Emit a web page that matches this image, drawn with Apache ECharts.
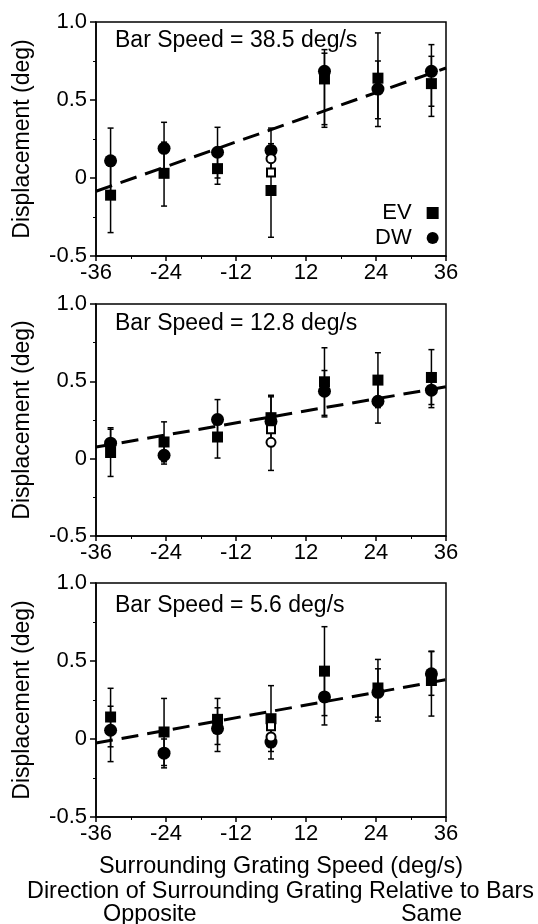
<!DOCTYPE html>
<html>
<head>
<meta charset="utf-8">
<script src="https://cdn.jsdelivr.net/npm/echarts@6/dist/echarts.min.js"></script>
<style>
html,body{margin:0;padding:0;background:#fff;}
#chart{width:538px;height:924px;}
</style>
</head>
<body>
<div id="chart"></div>
<script>
// ---------- DATA ----------
var xTickLabels = ['-36', '-24', '-12', '12', '24', '36'];
// surrounding grating speed (deg/s) of the 7 conditions, read on an equally spaced -36..36 scale
var gratingSpeeds = [-33, -22, -11, 0, 11, 22, 33];
var panelTitles = ['Bar Speed = 38.5 deg/s', 'Bar Speed = 12.8 deg/s', 'Bar Speed = 5.6 deg/s'];

// Panel 1: bar speed 38.5 deg/s
var ev1 = [-0.11, 0.03, 0.06, -0.08, 0.635, 0.64, 0.605];
var ev1Low = [-0.35, -0.18, -0.04, -0.38, 0.325, 0.33, 0.395];
var ev1High = [0.13, 0.23, 0.16, 0.22, 0.80, 0.93, 0.78];
var dw1 = [0.11, 0.19, 0.165, 0.177, 0.684, 0.57, 0.684];
var dw1Low = [-0.10, 0.03, 0.0, 0.03, 0.342, 0.38, 0.46];
var dw1High = [0.32, 0.357, 0.325, 0.32, 0.823, 0.75, 0.855];
var evStatic1 = 0.036, dwStatic1 = 0.124;
var fit1 = [-0.085, 0.705];

// Panel 2: bar speed 12.8 deg/s
var ev2 = [0.04, 0.108, 0.14, 0.265, 0.497, 0.508, 0.525];
var ev2Low = [-0.115, -0.02, 0.004, 0.11, 0.28, 0.33, 0.35];
var ev2High = [0.19, 0.238, 0.276, 0.41, 0.717, 0.685, 0.705];
var dw2 = [0.10, 0.022, 0.253, 0.24, 0.436, 0.371, 0.443];
var dw2Low = [0.02, -0.035, 0.12, -0.076, 0.27, 0.23, 0.33];
var dw2High = [0.20, 0.08, 0.382, 0.40, 0.57, 0.51, 0.55];
var evStatic2 = 0.19, dwStatic2 = 0.106;
var fit2 = [0.075, 0.465];

// Panel 3: bar speed 5.6 deg/s
var ev3 = [0.141, 0.045, 0.126, 0.13, 0.435, 0.327, 0.375];
var ev3Low = [-0.05, -0.17, -0.035, -0.08, 0.15, 0.14, 0.147];
var ev3High = [0.325, 0.26, 0.26, 0.342, 0.72, 0.51, 0.56];
var dw3 = [0.056, -0.091, 0.067, -0.02, 0.27, 0.299, 0.418];
var dw3Low = [-0.145, -0.185, -0.08, -0.128, 0.09, 0.115, 0.28];
var dw3High = [0.21, 0.0, 0.2, 0.09, 0.45, 0.45, 0.563];
var evStatic3 = 0.082, dwStatic3 = 0.013;
var fit3 = [-0.026, 0.38];

var fitX = [-36, 36];

// ---------- BUILD ----------
var FONT = '"Liberation Sans", Arial, Helvetica, sans-serif';
// convert deg/s to the equally spaced label axis (one label step = 14.4 deg/s)
function toAxis(v) { return (v + 36) / 14.4; }

var panels = [
  {ev: ev1, evL: ev1Low, evH: ev1High, dw: dw1, dwL: dw1Low, dwH: dw1High, evS: evStatic1, dwS: dwStatic1, fit: fit1},
  {ev: ev2, evL: ev2Low, evH: ev2High, dw: dw2, dwL: dw2Low, dwH: dw2High, evS: evStatic2, dwS: dwStatic2, fit: fit2},
  {ev: ev3, evL: ev3Low, evH: ev3High, dw: dw3, dwL: dw3Low, dwH: dw3High, evS: evStatic3, dwS: dwStatic3, fit: fit3}
];
var gridTops = [22, 304, 583];
var gridHeights = [234, 232, 234];
var titleTops = [24, 307, 589];

function errRender(params, api) {
  var x = api.value(0), lo = api.value(1), hi = api.value(2);
  var p1 = api.coord([x, hi]), p2 = api.coord([x, lo]);
  var w = 3;
  var st = {stroke: '#000', lineWidth: 1.5};
  return {type: 'group', children: [
    {type: 'line', shape: {x1: p1[0], y1: p1[1], x2: p2[0], y2: p2[1]}, style: st},
    {type: 'line', shape: {x1: p1[0] - w, y1: p1[1], x2: p1[0] + w, y2: p1[1]}, style: st},
    {type: 'line', shape: {x1: p2[0] - w, y1: p2[1], x2: p2[0] + w, y2: p2[1]}, style: st}
  ]};
}

var grids = [], xAxes = [], yAxes = [], series = [], titles = [];
panels.forEach(function (p, i) {
  grids.push({left: 96, right: 92, top: gridTops[i], height: gridHeights[i], show: true,
    borderColor: '#000', borderWidth: 1.5, backgroundColor: 'transparent'});
  xAxes.push({gridIndex: i, type: 'value', min: 0, max: 5, interval: 1,
    axisLine: {show: true, onZero: false, lineStyle: {color: '#000', width: 1.5}},
    axisTick: {show: true, length: 5, inside: false, lineStyle: {color: '#000', width: 1.5}},
    minorTick: {show: true, splitNumber: 2, length: 3, lineStyle: {color: '#000', width: 1}},
    splitLine: {show: false},
    axisLabel: {color: '#000', fontSize: 22, fontFamily: FONT, margin: 6,
      formatter: function (v) { return xTickLabels[Math.round(v)]; }}
  });
  yAxes.push({gridIndex: i, type: 'value', min: -0.5, max: 1, interval: 0.5,
    name: 'Displacement (deg)', nameLocation: 'middle', nameGap: 62,
    nameTextStyle: {color: '#000', fontSize: 23, fontFamily: FONT},
    axisLine: {show: true, lineStyle: {color: '#000', width: 1.5}},
    axisTick: {show: true, length: 6, lineStyle: {color: '#000', width: 1.5}},
    minorTick: {show: true, splitNumber: 2, length: 3, lineStyle: {color: '#000', width: 1}},
    splitLine: {show: false},
    axisLabel: {color: '#000', fontSize: 22, fontFamily: FONT, margin: 9,
      formatter: function (v) { return v === 0 ? '0' : v.toFixed(1); }}
  });
  titles.push({text: panelTitles[i], left: 110, top: titleTops[i],
    textStyle: {color: '#000', fontSize: 23, fontWeight: 'normal', fontFamily: FONT}});

  var evErr = [], dwErr = [], evPts = [], dwPts = [];
  gratingSpeeds.forEach(function (s, k) {
    var x = toAxis(s);
    evErr.push([x, p.evL[k], p.evH[k]]);
    dwErr.push([x, p.dwL[k], p.dwH[k]]);
    evPts.push([x, p.ev[k]]);
    dwPts.push([x, p.dw[k]]);
  });
  series.push({type: 'custom', name: 'EV err', xAxisIndex: i, yAxisIndex: i, renderItem: errRender,
    encode: {x: 0, y: [1, 2]}, data: evErr, z: 1, silent: true});
  series.push({type: 'custom', name: 'DW err', xAxisIndex: i, yAxisIndex: i, renderItem: errRender,
    encode: {x: 0, y: [1, 2]}, data: dwErr, z: 1, silent: true});
  series.push({type: 'line', name: 'fit', xAxisIndex: i, yAxisIndex: i, z: 4,
    data: [[toAxis(fitX[0]), p.fit[0]], [toAxis(fitX[1]), p.fit[1]]],
    symbol: 'none', lineStyle: {color: '#000', width: 3, type: [17, 9]}, silent: true});
  series.push({type: 'scatter', name: 'EV', xAxisIndex: i, yAxisIndex: i, z: 2,
    symbol: 'rect', symbolSize: 11, itemStyle: {color: '#000', opacity: 1}, data: evPts});
  series.push({type: 'scatter', name: 'DW', xAxisIndex: i, yAxisIndex: i, z: 3,
    symbol: 'circle', symbolSize: 13, itemStyle: {color: '#000', opacity: 1}, data: dwPts});
  series.push({type: 'scatter', name: 'EV static', xAxisIndex: i, yAxisIndex: i, z: 5,
    symbol: 'rect', symbolSize: 8, itemStyle: {color: '#fff', borderColor: '#000', borderWidth: 2, opacity: 1},
    data: [[toAxis(0), p.evS]]});
  series.push({type: 'scatter', name: 'DW static', xAxisIndex: i, yAxisIndex: i, z: 5,
    symbol: 'circle', symbolSize: 9, itemStyle: {color: '#fff', borderColor: '#000', borderWidth: 2, opacity: 1},
    data: [[toAxis(0), p.dwS]]});
});

var chart = echarts.init(document.getElementById('chart'), null, {renderer: 'canvas'});
chart.setOption({
  backgroundColor: '#fff',
  animation: false,
  title: titles,
  grid: grids,
  xAxis: xAxes,
  yAxis: yAxes,
  legend: {
    orient: 'vertical', align: 'right', left: 370, top: 197, itemGap: 3,
    itemWidth: 12, itemHeight: 12, selectedMode: false,
    textStyle: {color: '#000', fontSize: 22, fontFamily: FONT, padding: [0, 10, 0, 0]},
    data: [{name: 'EV', icon: 'rect'}, {name: 'DW', icon: 'circle'}]
  },
  graphic: [
    {type: 'text', left: 99, top: 855, style: {text: 'Surrounding Grating Speed (deg/s)', fill: '#000', font: '23.4px ' + FONT}},
    {type: 'text', left: 27, top: 880, style: {text: 'Direction of Surrounding Grating Relative to Bars', fill: '#000', font: '23.4px ' + FONT}},
    {type: 'text', left: 103, top: 903, style: {text: 'Opposite', fill: '#000', font: '23.4px ' + FONT}},
    {type: 'text', left: 401, top: 903, style: {text: 'Same', fill: '#000', font: '23.4px ' + FONT}}
  ],
  series: series
});
</script>
</body>
</html>
